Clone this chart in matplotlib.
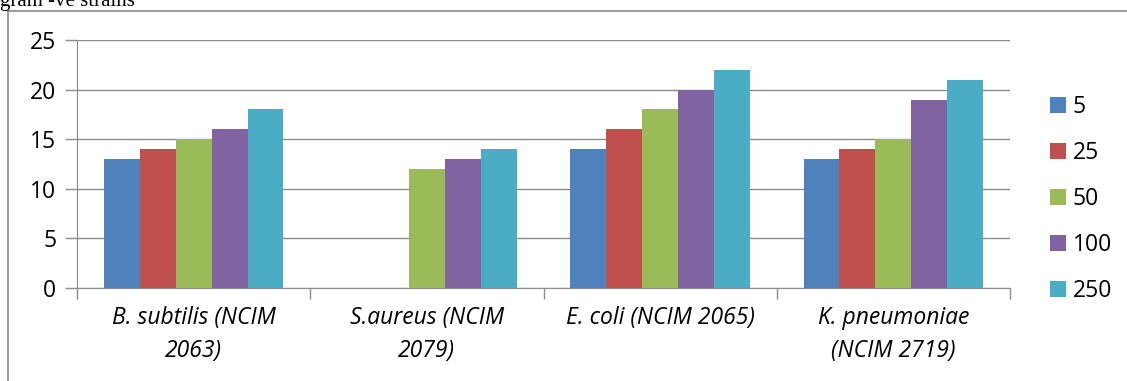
import numpy as np
import matplotlib.pyplot as plt
from matplotlib.lines import Line2D

# data
strains = ['B. subtilis (NCIM\n2063)', 'S.aureus (NCIM\n2079)',
           'E. coli (NCIM 2065)', 'K. pneumoniae\n(NCIM 2719)']
conc = ['5', '25', '50', '100', '250']
zone_5 = [13, 0, 14, 13]
zone_25 = [14, 0, 16, 14]
zone_50 = [15, 12, 18, 15]
zone_100 = [16, 13, 20, 19]
zone_250 = [18, 14, 22, 21]
series = [zone_5, zone_25, zone_50, zone_100, zone_250]
colors = ['#4F81BD', '#C0504D', '#9BBB59', '#8064A2', '#4BACC6']

plt.rcParams['font.family'] = ['Open Sans', 'DejaVu Sans']

W, H = 1127, 381
fig = plt.figure(figsize=(W / 100, H / 100), dpi=100)

# plot area in pixels
x0, x1, ytop, ybot = 77, 1010, 40, 288
ax = fig.add_axes([x0 / W, 1 - ybot / H, (x1 - x0) / W, (ybot - ytop) / H])

x = np.arange(len(strains))
bw = 0.154
for i, (vals, c) in enumerate(zip(series, colors)):
    ax.bar(x + (i - 2) * bw, vals, bw, color=c, label=conc[i], zorder=3)

ax.set_xlim(-0.5, len(strains) - 0.5)
ax.set_ylim(0, 25)
ax.set_yticks(range(0, 26, 5))
ax.grid(axis='y', color='#8c8c8c', linewidth=1, zorder=0)

ax.set_xticks(np.arange(-0.5, len(strains), 1))
ax.set_xticklabels([])
ax.set_xticks(x, minor=True)
ax.set_xticklabels(strains, minor=True, style='italic', fontsize=16.5,
                   linespacing=1.5)
ax.tick_params(axis='x', which='minor', length=0, pad=13)
ax.tick_params(axis='x', which='major', length=8, color='#8c8c8c', width=1)
ax.tick_params(axis='y', length=9, color='#8c8c8c', width=1, labelsize=16.5, pad=6)

for s in ['top', 'right']:
    ax.spines[s].set_visible(False)
for s in ['left', 'bottom']:
    ax.spines[s].set_color('#8c8c8c')

ax.legend(loc='center left', bbox_to_anchor=(1050 / W, 1 - 199 / H),
          bbox_transform=fig.transFigure, frameon=False, borderpad=0,
          borderaxespad=0, fontsize=16.5, handlelength=0.7, handleheight=0.7,
          handletextpad=0.3, labelspacing=0.95)

# surrounding frame and clipped caption above
fig.add_artist(Line2D([8 / W, 8 / W], [0, 1 - 11 / H], color='#888888', lw=1.2))
fig.add_artist(Line2D([8 / W, 1], [1 - 11 / H, 1 - 11 / H], color='#888888', lw=1.2))
fig.text(0.0, 1 - 6 / H, 'gram -ve strains', family='Liberation Serif',
         fontsize=15, va='baseline', ha='left')

fig.savefig('out.png', dpi=100)
